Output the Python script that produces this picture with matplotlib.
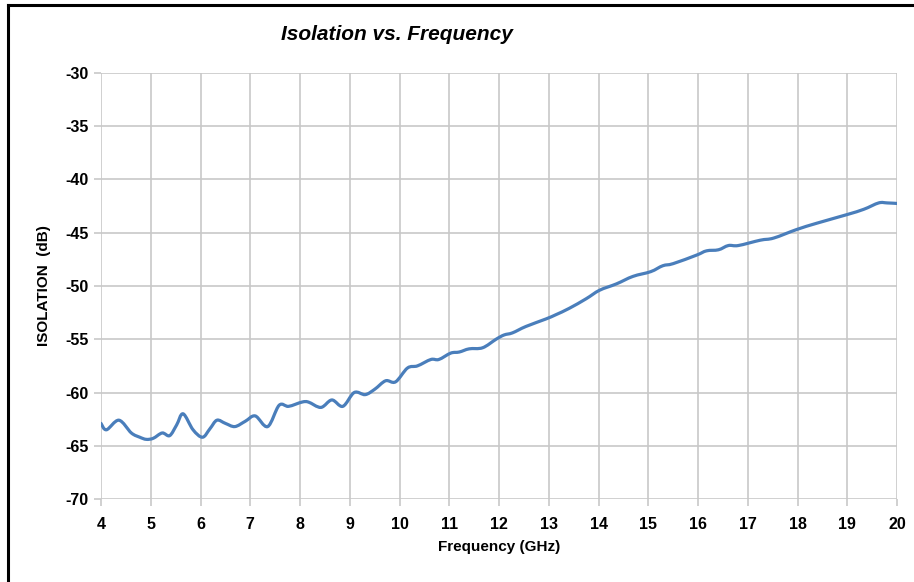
import matplotlib
matplotlib.use("Agg")
import matplotlib.pyplot as plt
import numpy as np
from matplotlib.lines import Line2D
from matplotlib.path import Path
from matplotlib.patches import PathPatch

freq = [4.00, 4.11, 4.36, 4.61, 4.78, 4.91, 5.05, 5.23, 5.38, 5.52, 5.65, 5.85,
        6.04, 6.19, 6.33, 6.50, 6.69, 6.90, 7.10, 7.35, 7.58, 7.77, 8.04, 8.17,
        8.42, 8.64, 8.86, 9.09, 9.31, 9.50, 9.72, 9.92, 10.16, 10.36, 10.63,
        10.79, 11.03, 11.20, 11.40, 11.67, 11.94, 12.10, 12.27, 12.54, 12.94,
        13.14, 13.41, 13.75, 14.02, 14.36, 14.69, 15.05, 15.29, 15.50, 15.97,
        16.17, 16.41, 16.61, 16.81, 17.25, 17.52, 17.98, 18.39, 18.99, 19.33,
        19.63, 19.80, 20.00]
isolation = [-62.9, -63.5, -62.6, -63.8, -64.2, -64.4, -64.3, -63.8, -64.05, -63.05,
             -62.0, -63.5, -64.2, -63.4, -62.6, -62.9, -63.2, -62.7, -62.2, -63.2,
             -61.2, -61.3, -60.9, -60.9, -61.4, -60.7, -61.3, -60.0, -60.2, -59.7,
             -58.9, -59.0, -57.7, -57.5, -56.9, -56.9, -56.3, -56.2, -55.9, -55.8,
             -55.0, -54.6, -54.4, -53.8, -53.1, -52.7, -52.1, -51.2, -50.4, -49.8,
             -49.1, -48.65, -48.1, -47.9, -47.1, -46.7, -46.6, -46.2, -46.2, -45.7,
             -45.5, -44.7, -44.1, -43.3, -42.8, -42.2, -42.2, -42.25]

x_ticks = list(range(4, 21))
y_ticks = list(range(-70, -29, 5))

FONT = "Liberation Sans"

fig = plt.figure(figsize=(9.14, 5.82), dpi=100)
ax = fig.add_axes([0.1105, 0.1426, 0.871, 0.732])


def smooth_path(xs, ys, t=1.0 / 6.0):
    """Excel-style smoothed line drawn as cubic Bezier segments through the points."""
    p = np.column_stack([xs, ys]).astype(float)
    n = len(p)
    verts = [p[0]]
    codes = [Path.MOVETO]
    for i in range(n - 1):
        p0 = p[i - 1] if i > 0 else p[i]
        p1 = p[i]
        p2 = p[i + 1]
        p3 = p[i + 2] if i + 2 < n else p[i + 1]
        c1 = p1 + (p2 - p0) * t
        c2 = p2 - (p3 - p1) * t
        verts += [c1, c2, p2]
        codes += [Path.CURVE4] * 3
    return Path(verts, codes)


ax.add_patch(PathPatch(smooth_path(freq, isolation), facecolor="none",
                       edgecolor="#4a7ebb", linewidth=2.3, capstyle="round",
                       joinstyle="round"))

ax.set_xlim(4, 20)
ax.set_ylim(-70, -30)
ax.set_xticks(x_ticks)
ax.set_yticks(y_ticks)
ax.set_xticklabels([str(t) for t in x_ticks], fontsize=11.5, fontweight="bold", family=FONT)
ax.set_yticklabels([str(t) for t in y_ticks], fontsize=11.5, fontweight="bold", family=FONT)
ax.grid(True, color="#c8c8c8", linewidth=1.2)
ax.set_axisbelow(True)
for s in ax.spines.values():
    s.set_visible(False)
ax.tick_params(axis="both", length=5, width=1.2, color="#c8c8c8", pad=4)
ax.tick_params(axis="x", pad=8)

ax.set_xlabel("Frequency (GHz)", fontsize=11, fontweight="bold", family=FONT, labelpad=6)
ax.set_ylabel("ISOLATION  (dB)", fontsize=11, fontweight="bold", family=FONT, labelpad=10)

fig.text(0.434, 0.94, "Isolation vs. Frequency", fontsize=15, fontweight="bold",
         style="italic", family=FONT, ha="center", va="center")

# outer frame (top and left)
fig.add_artist(Line2D([0.009, 1.0], [0.991, 0.991], transform=fig.transFigure,
                      color="black", linewidth=2.2))
fig.add_artist(Line2D([0.009, 0.009], [0.0, 0.991], transform=fig.transFigure,
                      color="black", linewidth=2.2))

fig.savefig("out.png", dpi=100)
